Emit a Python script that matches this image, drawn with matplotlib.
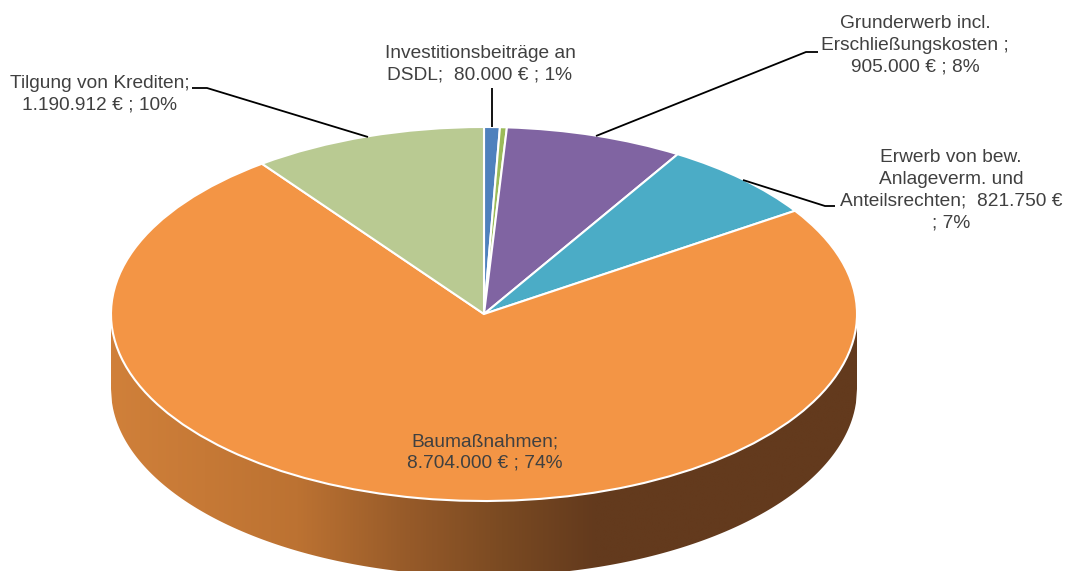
import numpy as np
import matplotlib
matplotlib.use("Agg")
import matplotlib.pyplot as plt
from matplotlib.colors import LinearSegmentedColormap

plt.rcParams['font.family'] = ['Liberation Sans', 'DejaVu Sans']

categories = ["Investitionsbeiträge", "Sonstige", "Grunderwerb", "Erwerb", "Baumaßnahmen", "Tilgung"]
values = [80000, 35000, 905000, 821750, 8704000, 1190912]
colors = ["#4F81BD", "#9BBB59", "#8064A2", "#4BACC6", "#F39545", "#B9CA92"]
labels = [
    "Investitionsbeiträge an\nDSDL;  80.000 € ; 1%",
    "Grunderwerb incl.\nErschließungskosten ;\n905.000 € ; 8%",
    "Erwerb von bew.\nAnlageverm. und\nAnteilsrechten;  821.750 €\n; 7%",
    "Baumaßnahmen;\n8.704.000 € ; 74%",
    "Tilgung von Krediten;\n1.190.912 € ; 10%",
]
label_px = [(480, 64.5), (915, 45), (951, 190), (485, 452.5), (100, 94)]
leaders_px = [
    [(492, 88), (492, 127)],
    [(596, 136), (806, 52), (818, 52)],
    [(743, 180), (825, 206), (835, 206)],
    [(368, 137), (207, 88), (192, 88)],
]
W, H = 1068, 571
CX, CY, RX, RY, DEPTH = 484, 314, 373, 187, 75


def d(px, py):
    return (px - CX) / RX, (CY - py) / RY


fig = plt.figure(figsize=(W / 100, H / 100), dpi=100, facecolor="white")
ax = fig.add_axes([0, 0, 1, 1])

wedges, _ = ax.pie(values, colors=colors, startangle=90, counterclock=False, radius=1,
                   wedgeprops=dict(edgecolor="white", linewidth=1.5))
for w in wedges:
    w.set_zorder(3)

# side wall: smooth horizontal gradient clipped to the wall outline
dep = DEPTH / RY
xs = np.linspace(-1, 1, 721)
top = -np.sqrt(np.clip(1 - xs ** 2, 0, 1))
wall = ax.fill_between(xs, top + 0.02, top - dep, color="none", lw=0, zorder=1)
stops = [0.0, 0.25, 0.4, 0.525, 0.65, 1.0]
shades = ["#D0803A", "#BC7232", "#965A29", "#7A4A22", "#633A1D", "#633A1D"]
cmap = LinearSegmentedColormap.from_list("wall", list(zip(stops, shades)))
img = ax.imshow(np.linspace(0, 1, 512)[None, :], cmap=cmap, extent=(-1, 1, -1 - dep, 0.02),
                aspect="auto", origin="lower", interpolation="bilinear", zorder=1)
img.set_clip_path(wall.get_paths()[0], transform=ax.transData)

ax.set_aspect("auto")
ax.set_xlim(d(0, 0)[0], d(W, 0)[0])
ax.set_ylim(d(0, H)[1], d(0, 0)[1])
ax.axis("off")

for pts in leaders_px:
    arr = np.array([d(*p) for p in pts])
    ax.plot(arr[:, 0], arr[:, 1], color="black", lw=1.3, zorder=5, solid_capstyle="butt")

for text, (px, py) in zip(labels, label_px):
    x, y = d(px, py)
    ax.text(x, y, text, ha="center", va="center", fontsize=13.8, color="#404040",
            linespacing=1.36, zorder=6)

fig.savefig("out.png", dpi=100)
